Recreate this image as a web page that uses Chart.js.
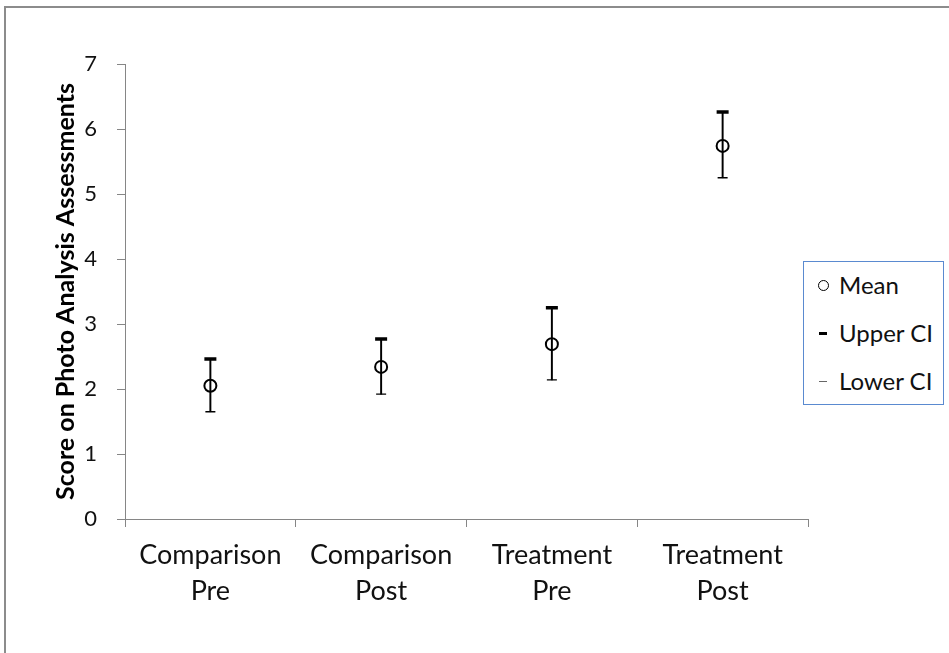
<!DOCTYPE html>
<html>
<head>
<meta charset="utf-8">
<script src="https://cdn.jsdelivr.net/npm/chart.js@4/dist/chart.umd.min.js"></script>
<style>
    html, body { margin: 0; padding: 0; background: #fff; }
    body { width: 949px; height: 653px; position: relative; overflow: hidden; font-family: Lato, 'Open Sans', sans-serif; }
    .frame { position: absolute; left: 4px; top: 6px; width: 1000px; height: 700px; border-left: 2px solid #8c8c8c; border-top: 2px solid #8c8c8c; }
    #chartWrap { position: absolute; left: 0; top: 0; width: 949px; height: 653px; }
    .legend { position: absolute; left: 803px; top: 261px; width: 139px; height: 142px; border: 1px solid #5a8ad0; background: #fff; }
    .legend-item { position: absolute; left: 0; height: 30px; line-height: 30px; font-size: 24px; color: #111; }
    .legend-item span.label { position: absolute; left: 35px; white-space: nowrap; }
    .icon { position: absolute; }
    .icon-mean { left: 14px; top: 10px; width: 9px; height: 9px; border: 1.5px solid #000; border-radius: 50%; }
    .icon-upper { left: 15px; top: 14px; width: 8px; height: 3px; background: #000; }
    .icon-lower { left: 15px; top: 15px; width: 8px; height: 1px; background: #666; }
</style>
</head>
<body>
<div class="frame"></div>
<div id="chartWrap"><canvas id="ciChart" width="949" height="653"></canvas></div>
<div class="legend">
    <div class="legend-item" style="top: 8px;"><div class="icon icon-mean"></div><span class="label">Mean</span></div>
    <div class="legend-item" style="top: 56px;"><div class="icon icon-upper"></div><span class="label">Upper CI</span></div>
    <div class="legend-item" style="top: 104px;"><div class="icon icon-lower"></div><span class="label">Lower CI</span></div>
</div>
<script>
// Values
const groups = [['Comparison', 'Pre'], ['Comparison', 'Post'], ['Treatment', 'Pre'], ['Treatment', 'Post']];
const meanScores = [2.05, 2.34, 2.69, 5.74];
const upperCI = [2.46, 2.77, 3.25, 6.26];
const lowerCI = [1.65, 1.92, 2.14, 5.25];
const yTicks = [0, 1, 2, 3, 4, 5, 6, 7];

const axisGray = '#868686';

// vertical high-low line for each group, as a floating bar
const ciRanges = lowerCI.map((low, i) => [low, upperCI[i]]);

new Chart(document.getElementById('ciChart'), {
    data: {
        labels: groups,
        datasets: [
            {
                type: 'bar',
                label: 'range',
                data: ciRanges,
                backgroundColor: '#000',
                barThickness: 1.3,
                order: 3
            },
            {
                type: 'line',
                label: 'Upper CI',
                data: upperCI,
                showLine: false,
                pointStyle: 'line',
                pointRadius: 6,
                pointBorderWidth: 3.5,
                borderColor: '#000',
                order: 2
            },
            {
                type: 'line',
                label: 'Lower CI',
                data: lowerCI,
                showLine: false,
                pointStyle: 'line',
                pointRadius: 5,
                pointBorderWidth: 1.3,
                borderColor: '#000',
                order: 2
            },
            {
                type: 'line',
                label: 'Mean',
                data: meanScores,
                showLine: false,
                pointStyle: 'circle',
                pointRadius: 6,
                pointBorderWidth: 2,
                pointBackgroundColor: 'rgba(0,0,0,0)',
                borderColor: '#000',
                order: 1
            }
        ]
    },
    options: {
        responsive: false,
        animation: false,
        events: [],
        layout: { padding: { top: 64, right: 141, bottom: 0, left: 0 } },
        plugins: {
            legend: { display: false },
            tooltip: { enabled: false }
        },
        scales: {
            x: {
                type: 'category',
                offset: true,
                grid: { offset: true, drawOnChartArea: false, drawTicks: true, tickLength: 8, color: axisGray },
                border: { color: axisGray, width: 1 },
                ticks: {
                    color: '#111',
                    font: { family: 'Lato', size: 27, lineHeight: 1.333 },
                    padding: 10,
                    maxRotation: 0,
                    autoSkip: false
                },
                afterFit: scale => { scale.height = 134; }
            },
            y: {
                type: 'linear',
                min: 0,
                max: 7,
                afterBuildTicks: scale => { scale.ticks = yTicks.map(v => ({ value: v })); },
                grid: { drawOnChartArea: false, drawTicks: true, tickLength: 8, color: axisGray },
                border: { color: axisGray, width: 1 },
                ticks: {
                    color: '#111',
                    font: { family: 'Lato', size: 22 },
                    padding: 20
                },
                title: {
                    display: true,
                    text: 'Score on Photo Analysis Assessments',
                    color: '#000',
                    font: { family: 'Lato', size: 25, weight: 'bold', lineHeight: 1.2 },
                    padding: { top: 51, bottom: 0 }
                },
                afterFit: scale => { scale.width = 125; }
            }
        }
    }
});
</script>
</body>
</html>
